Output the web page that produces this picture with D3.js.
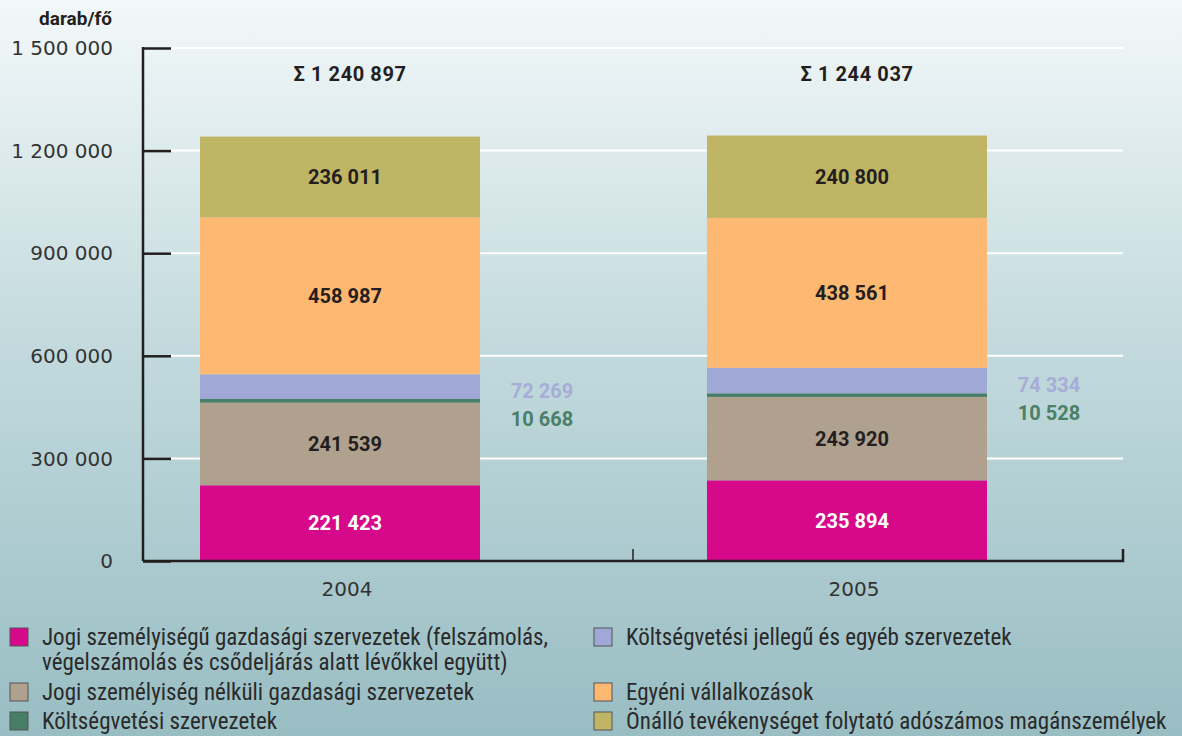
<!DOCTYPE html>
<html>
  <head>
    <meta charset="utf-8">
    <script src="https://cdn.jsdelivr.net/npm/d3@7"></script>
    <style>
      body { margin: 0; }
      svg { display: block; }
      .narrow { font-family: "Liberation Sans Narrow", "Roboto Condensed", "DejaVu Sans Condensed", sans-serif; }
      .tick-label { font-family: "DejaVu Sans", sans-serif; }
      .bold { font-family: Roboto, "Liberation Sans", sans-serif; font-weight: bold; }
    </style>
  </head>
  <body>
    <script>
// stacked bars, 2004 vs 2005
var width = 1182;
var height = 736;

var years = ["2004", "2005"];

var categories = [
  "Jogi személyiségű gazdasági szervezetek (felszámolás,|végelszámolás és csődeljárás alatt lévőkkel együtt)",
  "Jogi személyiség nélküli gazdasági szervezetek",
  "Költségvetési szervezetek",
  "Költségvetési jellegű és egyéb szervezetek",
  "Egyéni vállalkozások",
  "Önálló tevékenységet folytató adószámos magánszemélyek"
];

var colors = ["#d6098a", "#b0a08e", "#467e67", "#a0a8d5", "#fdb872", "#bfb564"];

var values2004 = [221423, 241539, 10668, 72269, 458987, 236011];
var values2005 = [235894, 243920, 10528, 74334, 438561, 240800];

var yTicks = [0, 300000, 600000, 900000, 1200000, 1500000];

// build rows for the stack
var rows = years.map(function(yr, i) {
  var vals = i == 0 ? values2004 : values2005;
  var row = { year: yr };
  categories.forEach(function(c, j) { row[c] = vals[j]; });
  return row;
});

var fmt = function(v) { return d3.format(",")(v).replace(/,/g, " "); };

var svg = d3.select("body").append("svg")
  .attr("width", width)
  .attr("height", height);

// background gradient
var grad = svg.append("defs").append("linearGradient")
  .attr("id", "bg").attr("x1", 0).attr("y1", 0).attr("x2", 0).attr("y2", 1);
grad.append("stop").attr("offset", "0%").attr("stop-color", "#f3f8f9");
grad.append("stop").attr("offset", "45%").attr("stop-color", "#c4dbde");
grad.append("stop").attr("offset", "100%").attr("stop-color", "#98bdc3");
svg.append("rect").attr("width", width).attr("height", height).attr("fill", "url(#bg)");

var x = d3.scaleBand().domain(years)
  .range([86.5, 1100.5]).paddingInner(0.4477).paddingOuter(0.2239);

var y = d3.scaleLinear().domain([0, 1500000]).range([561, 48]);

var axisLeft = 143, axisRight = 1123;

// gridlines
svg.append("g")
  .selectAll("line")
  .data(yTicks.filter(d => d > 0))
  .join("line")
  .attr("x1", axisLeft + 28).attr("x2", axisRight)
  .attr("y1", d => y(d)).attr("y2", d => y(d))
  .attr("stroke", "#fff").attr("stroke-width", 2);

// stacked bars
var series = d3.stack().keys(categories)(rows);

var layer = svg.append("g")
  .selectAll("g")
  .data(series)
  .join("g")
  .attr("fill", (d, i) => colors[i]);

layer.selectAll("rect")
  .data(d => d)
  .join("rect")
  .attr("x", d => x(d.data.year))
  .attr("width", x.bandwidth())
  .attr("y", d => y(d[1]))
  .attr("height", d => y(d[0]) - y(d[1]));

// labels inside segments (big ones only)
var inside = [0, 1, 4, 5];
inside.forEach(function(k) {
  svg.append("g")
    .selectAll("text")
    .data(series[k])
    .join("text")
    .attr("class", "bold")
    .attr("x", d => x(d.data.year) + x.bandwidth() / 2 + 5)
    .attr("y", d => (y(d[0]) + y(d[1])) / 2)
    .attr("dy", "0.36em")
    .attr("text-anchor", "middle")
    .attr("font-size", 20)
    .attr("fill", k == 0 ? "#fff" : "#231f20")
    .text(d => fmt(d.data[categories[k]]));
});

// labels for thin segments, beside the bars
var sideColors = { 3: "#a7acd8", 2: "#4a8068" };
[3, 2].forEach(function(k, n) {
  svg.append("g")
    .selectAll("text")
    .data(series[3])
    .join("text")
    .attr("class", "bold")
    .attr("x", d => x(d.data.year) + x.bandwidth() + 62)
    .attr("y", d => (y(d[0]) + y(d[1])) / 2 + 4 + n * 28)
    .attr("dy", "0.36em")
    .attr("text-anchor", "middle")
    .attr("font-size", 20)
    .attr("fill", sideColors[k])
    .text(d => fmt(d.data[categories[k]]));
});

// sums
svg.append("g")
  .selectAll("text")
  .data(rows)
  .join("text")
  .attr("class", "bold")
  .attr("x", d => x(d.year) + x.bandwidth() / 2 + 10)
  .attr("y", 74)
  .attr("dy", "0.36em")
  .attr("text-anchor", "middle")
  .attr("font-size", 20)
  .attr("letter-spacing", 0.6)
  .attr("fill", "#231f20")
  .text(d => "Σ " + fmt(d3.sum(categories, c => d[c])));

// y axis
var yAxis = svg.append("g")
  .attr("transform", "translate(" + axisLeft + ",0)")
  .call(d3.axisRight(y).tickValues(yTicks).tickSize(28).tickFormat(""));
yAxis.select(".domain").remove();
yAxis.selectAll(".tick line").attr("stroke", "#231f20").attr("stroke-width", 2.5);
yAxis.append("line")
  .attr("x1", 0).attr("x2", 0).attr("y1", y(1500000) - 1).attr("y2", y(0))
  .attr("stroke", "#231f20").attr("stroke-width", 2.5);

svg.append("g")
  .selectAll("text")
  .data(yTicks)
  .join("text")
  .attr("class", "tick-label")
  .attr("x", 113)
  .attr("y", d => y(d))
  .attr("dy", "0.36em")
  .attr("text-anchor", "end")
  .attr("font-size", 20)
  .attr("fill", "#333")
  .text(d => fmt(d));

svg.append("text")
  .attr("class", "bold")
  .attr("x", 112).attr("y", 25)
  .attr("text-anchor", "end")
  .attr("font-size", 19)
  .attr("fill", "#231f20")
  .text("darab/fő");

// x axis frame
svg.append("path")
  .attr("d", "M" + axisLeft + "," + y(0) + "H" + axisRight + "V" + (y(0) - 12))
  .attr("fill", "none").attr("stroke", "#231f20").attr("stroke-width", 2.5);
svg.append("line")
  .attr("x1", 633).attr("x2", 633).attr("y1", y(0)).attr("y2", y(0) - 12)
  .attr("stroke", "#231f20").attr("stroke-width", 1.5);

svg.append("g")
  .selectAll("text")
  .data(years)
  .join("text")
  .attr("class", "tick-label")
  .attr("x", d => x(d) + x.bandwidth() / 2 + 7)
  .attr("y", 589)
  .attr("dy", "0.36em")
  .attr("text-anchor", "middle")
  .attr("font-size", 20)
  .attr("fill", "#333")
  .text(d => d);

// legend
var legendPos = [
  { x: 10, y: 628 }, { x: 10, y: 683 }, { x: 10, y: 712 },
  { x: 594, y: 628 }, { x: 594, y: 683 }, { x: 594, y: 712 }
];

var leg = svg.append("g")
  .selectAll("g")
  .data(categories)
  .join("g")
  .attr("transform", (d, i) => "translate(" + legendPos[i].x + "," + legendPos[i].y + ")");

leg.append("rect")
  .attr("width", 18).attr("height", 18)
  .attr("fill", (d, i) => colors[i])
  .attr("stroke", "#555").attr("stroke-width", 1);

leg.append("text")
  .attr("class", "narrow")
  .attr("x", 32)
  .attr("font-size", 23)
  .attr("fill", "#2a2a2a")
  .selectAll("tspan")
  .data(d => d.split("|"))
  .join("tspan")
  .attr("x", 32)
  .attr("y", (d, i) => 17 + i * 25)
  .text(d => d);
</script>
  </body>
</html>
